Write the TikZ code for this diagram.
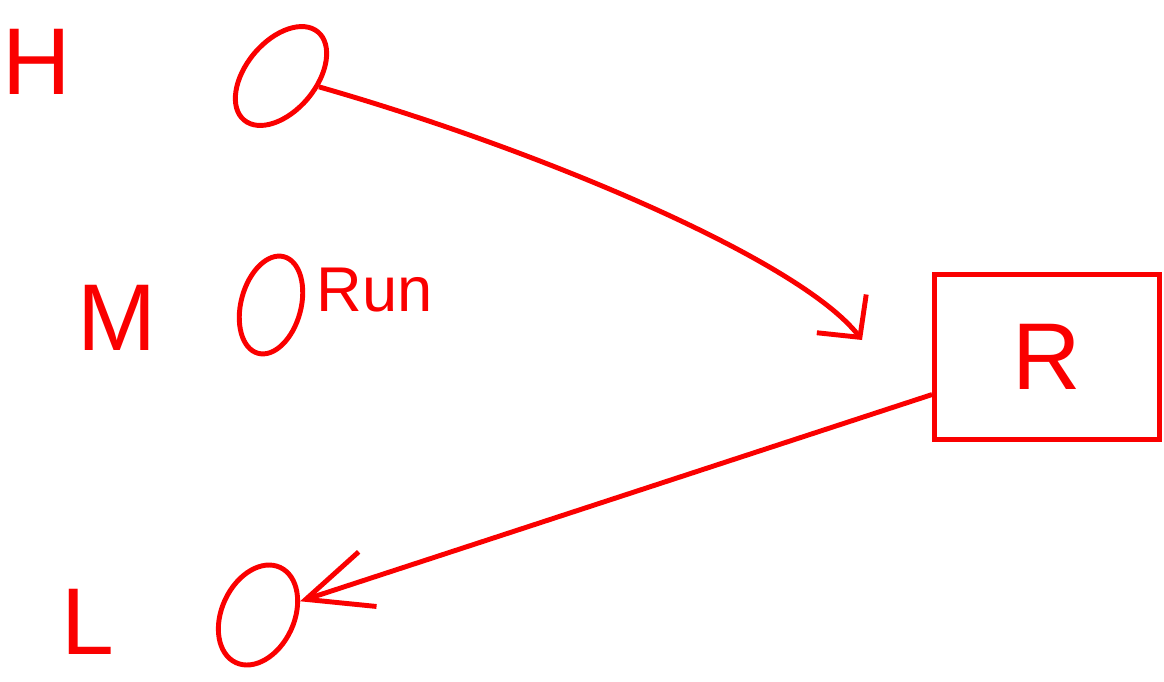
\documentclass[tikz,border=0pt]{standalone}
\usepackage{fontspec}
\setmainfont{Liberation Sans}
\usetikzlibrary{arrows.meta,positioning,shapes.geometric}
\definecolor{inkred}{RGB}{250,0,0}
\tikzset{
  ring/.style={draw=inkred, ellipse, line width=2.8pt, inner sep=0pt},
  tag/.style={text=inkred, inner sep=0pt, font=\fontsize{54}{54}\selectfont},
  smalltag/.style={tag, font=\fontsize{36}{36}\selectfont},
  resbox/.style={draw=inkred, line width=2.8pt, minimum width=4.5cm,
                 minimum height=3.3cm, text=inkred, font=\fontsize{54}{54}\selectfont},
  arrow/.style={-{Straight Barb[length=0.6cm,width=1.25cm]}, line width=2.8pt, draw=inkred},
  longarrow/.style={arrow, -{Straight Barb[length=1.3cm,width=1.15cm]}}
}
\begin{document}
\begin{tikzpicture}[x=0.02cm, y=-0.02cm]
  \useasboundingbox (0,0) rectangle (1164,681);
  % levels
  \node[tag] (h) at (37,62) {H};
  \node[tag] (m) at (117,318) {M};
  \node[tag] (l) at (88,622) {L};
  \node[ring, minimum width=1.4cm, minimum height=2.3cm, rotate=-40] (hi) at (281,76) {};
  \node[ring, minimum width=1.2cm, minimum height=2.0cm, rotate=-15] (mid) at (271,305) {};
  \node[ring, minimum width=1.45cm, minimum height=2.1cm, rotate=-25] (lo) at (258,615) {};
  \node[smalltag, anchor=west] (run) at (316,290) {Run};
  % result box
  \node[resbox] (res) at (1047,357) {R};
  \coordinate (rtip) at (862,340);
  \draw[arrow] (hi) .. controls (540,150) and (800,260) .. (rtip);
  \draw[longarrow] (res) -- (lo);
\end{tikzpicture}
\end{document}
